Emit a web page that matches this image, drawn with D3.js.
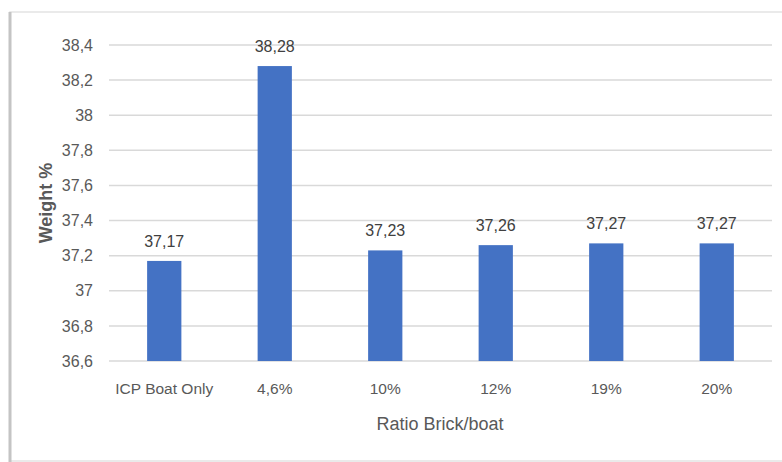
<!DOCTYPE html>
<html><head><meta charset="utf-8">
<script src="https://cdn.jsdelivr.net/npm/d3@7"></script>
<style>html,body{margin:0;padding:0;background:#fff;}svg{display:block;}</style>
</head><body>
<svg id="c" width="782" height="462"></svg>
<script>
const categories = ["ICP Boat Only", "4,6%", "10%", "12%", "19%", "20%"];
const values = [37.17, 38.28, 37.23, 37.26, 37.27, 37.27];
const yTicks = [36.6, 36.8, 37.0, 37.2, 37.4, 37.6, 37.8, 38.0, 38.2, 38.4];
const xTitle = "Ratio Brick/boat";
const yTitle = "Weight %";

const svg = d3.select("#c");
const fmt = v => String(+v.toFixed(2)).replace(".", ",");
const font = "'Liberation Sans',Arial,sans-serif";

// frame
svg.append("rect").attr("x", 10).attr("y", 12).attr("width", 780).attr("height", 449)
  .attr("fill", "#fff").attr("stroke", "#e3e3e3").attr("stroke-width", 1.5);
svg.append("line").attr("x1", 10).attr("x2", 10).attr("y1", 12).attr("y2", 462)
  .attr("stroke", "#c4c4c4").attr("stroke-width", 3);

const x = d3.scaleBand().domain(categories).range([109, 772]).paddingInner(0.69).paddingOuter(0.345);
const y = d3.scaleLinear().domain([36.6, 38.4]).range([361, 45]);

// gridlines
svg.append("g").selectAll("line").data(yTicks).join("line")
  .attr("x1", 109).attr("x2", 772)
  .attr("y1", d => y(d)).attr("y2", d => y(d))
  .attr("stroke", "#d9d9d9").attr("stroke-width", 1.5);

// y axis labels
const yAxis = d3.axisLeft(y).tickValues(yTicks).tickFormat(fmt).tickSize(0).tickPadding(0);
const gy = svg.append("g").attr("transform", "translate(93,0)").call(yAxis);
gy.select(".domain").remove();
gy.selectAll("text").attr("fill", "#595959").style("font-family", font).style("font-size", "16px");

// x axis labels
const xAxis = d3.axisBottom(x).tickSize(0).tickPadding(0);
const gx = svg.append("g").attr("transform", "translate(0,383)").call(xAxis);
gx.select(".domain").remove();
gx.selectAll("text").attr("fill", "#595959").style("font-family", font).style("font-size", "15.5px");

// bars
svg.append("g").selectAll("rect").data(values).join("rect")
  .attr("x", (d, i) => x(categories[i]))
  .attr("width", x.bandwidth())
  .attr("y", d => y(d))
  .attr("height", d => y(36.6) - y(d))
  .attr("fill", "#4472C4");

// data labels
svg.append("g").selectAll("text").data(values).join("text")
  .attr("x", (d, i) => x(categories[i]) + x.bandwidth() / 2)
  .attr("y", d => y(d) - 14)
  .attr("text-anchor", "middle")
  .attr("fill", "#404040")
  .style("font-family", font).style("font-size", "16px")
  .text(fmt);

// axis titles
svg.append("text").attr("x", 440).attr("y", 430).attr("text-anchor", "middle")
  .attr("fill", "#595959").style("font-family", font).style("font-size", "18px").text(xTitle);
svg.append("text").attr("transform", "translate(52,203) rotate(-90)").attr("text-anchor", "middle")
  .attr("fill", "#595959").style("font-family", font).style("font-size", "18px").style("font-weight", "bold")
  .text(yTitle);
</script>
</body></html>
